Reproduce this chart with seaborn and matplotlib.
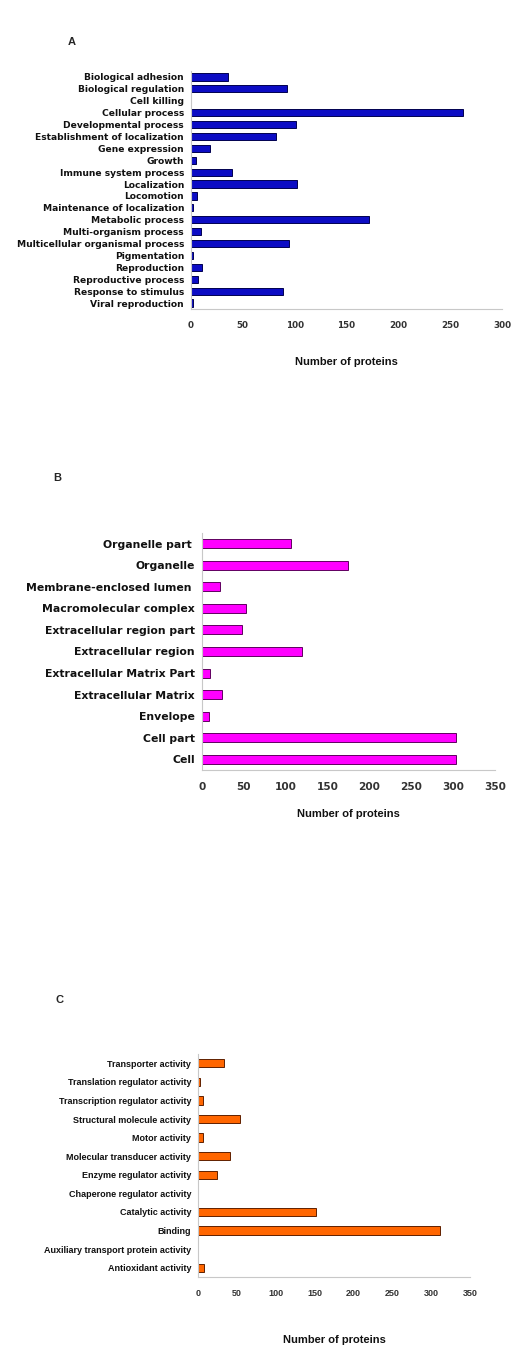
import matplotlib
matplotlib.use("Agg")
import matplotlib.pyplot as plt
import seaborn as sns
import pandas as pd

# panel A - biological process
bp_terms = ["Biological adhesion", "Biological regulation", "Cell killing",
            "Cellular process", "Developmental process",
            "Establishment of localization", "Gene expression", "Growth",
            "Immune system process", "Localization", "Locomotion",
            "Maintenance of localization", "Metabolic process",
            "Multi-organism process", "Multicellular organismal process",
            "Pigmentation", "Reproduction", "Reproductive process",
            "Response to stimulus", "Viral reproduction"]
bp_counts = [36, 93, 0, 262, 101, 82, 18, 5, 40, 102, 6, 2, 172, 10, 95,
             2, 11, 7, 89, 2]

# panel B - cellular component
cc_terms = ["Organelle part ", "Organelle", "Membrane-enclosed lumen ",
            "Macromolecular complex", "Extracellular region part",
            "Extracellular region", "Extracellular Matrix Part",
            "Extracellular Matrix", "Envelope", "Cell part", "Cell"]
cc_counts = [106, 174, 21, 53, 48, 119, 10, 24, 8, 303, 303]

# panel C - molecular function
mf_terms = ["Transporter activity", "Translation regulator activity",
            "Transcription regulator activity", "Structural molecule activity",
            "Motor activity", "Molecular transducer activity",
            "Enzyme regulator activity", "Chaperone regulator activity",
            "Catalytic activity", "Binding",
            "Auxiliary transport protein activity", "Antioxidant activity"]
mf_counts = [33, 3, 6, 54, 6, 41, 24, 0, 152, 311, 0, 8]

sns.set_style("white")
plt.rcParams['font.family'] = ['Liberation Sans', 'DejaVu Sans']

W, H = 512, 1345
fig = plt.figure(figsize=(W / 100, H / 100), dpi=100)

wide = ['DejaVu Sans']
narrow = ['Liberation Sans Narrow', 'Liberation Sans', 'DejaVu Sans']


def px_axes(left, top, right, bottom):
    return fig.add_axes([left / W, 1 - bottom / H, (right - left) / W, (bottom - top) / H])


def panel(ax, terms, counts, color, edge, width, xmax, step, lab_kw, tick_kw, xlab_pad):
    df = pd.DataFrame({"term": terms, "count": counts})
    sns.barplot(data=df, x="count", y="term", ax=ax, color=color, orient="h",
                edgecolor=edge, linewidth=0.7, width=width, saturation=1)
    ax.set_xlim(0, xmax)
    ax.set_ylim(len(terms) - 0.5, -0.5)
    ax.set_xticks(range(0, xmax + 1, step))
    ax.set_ylabel("")
    ax.set_xlabel("Number of proteins", fontweight="bold", fontsize=8,
                  labelpad=xlab_pad, color="#111111")
    for s in ["top", "right"]:
        ax.spines[s].set_visible(False)
    for s in ["left", "bottom"]:
        ax.spines[s].set_color("#c8c8c8")
        ax.spines[s].set_linewidth(0.8)
    ax.tick_params(axis="x", length=3, color="#c8c8c8", pad=6)
    ax.tick_params(axis="y", length=0, pad=5)
    for t in ax.get_yticklabels():
        t.set(**lab_kw)
    for t in ax.get_xticklabels():
        t.set(**tick_kw)


# A
axA = px_axes(191, 71, 502, 309)
panel(axA, bp_terms, bp_counts, "#0c0cc4", "#000050", 0.6, 300, 50,
      dict(fontweight="bold", fontsize=6.6, color="#111111", family=wide),
      dict(fontweight="bold", fontsize=6.3, color="#333333", family=wide), 19)
fig.text(68 / W, 1 - 42 / H, "A", fontweight="bold", fontsize=8, va="center")

# B
axB = px_axes(202, 533, 495, 770)
panel(axB, cc_terms, cc_counts, "#ff00ff", "#600060", 0.42, 350, 50,
      dict(fontweight="bold", fontsize=7.8, color="#111111", family=wide),
      dict(fontweight="bold", fontsize=7.6, color="#333333", family=wide), 12)
fig.text(53 / W, 1 - 478 / H, "B", fontweight="bold", fontsize=8, va="center")

# C
axC = px_axes(198, 1054, 470, 1277)
panel(axC, mf_terms, mf_counts, "#ff6600", "#602000", 0.45, 350, 50,
      dict(fontweight="bold", fontsize=6.5, color="#111111", family=narrow),
      dict(fontweight="bold", fontsize=6.5, color="#333333", family=narrow), 26)
fig.text(55 / W, 1 - 1000 / H, "C", fontweight="bold", fontsize=8, va="center")

fig.savefig("out.png", dpi=100, facecolor="white")
